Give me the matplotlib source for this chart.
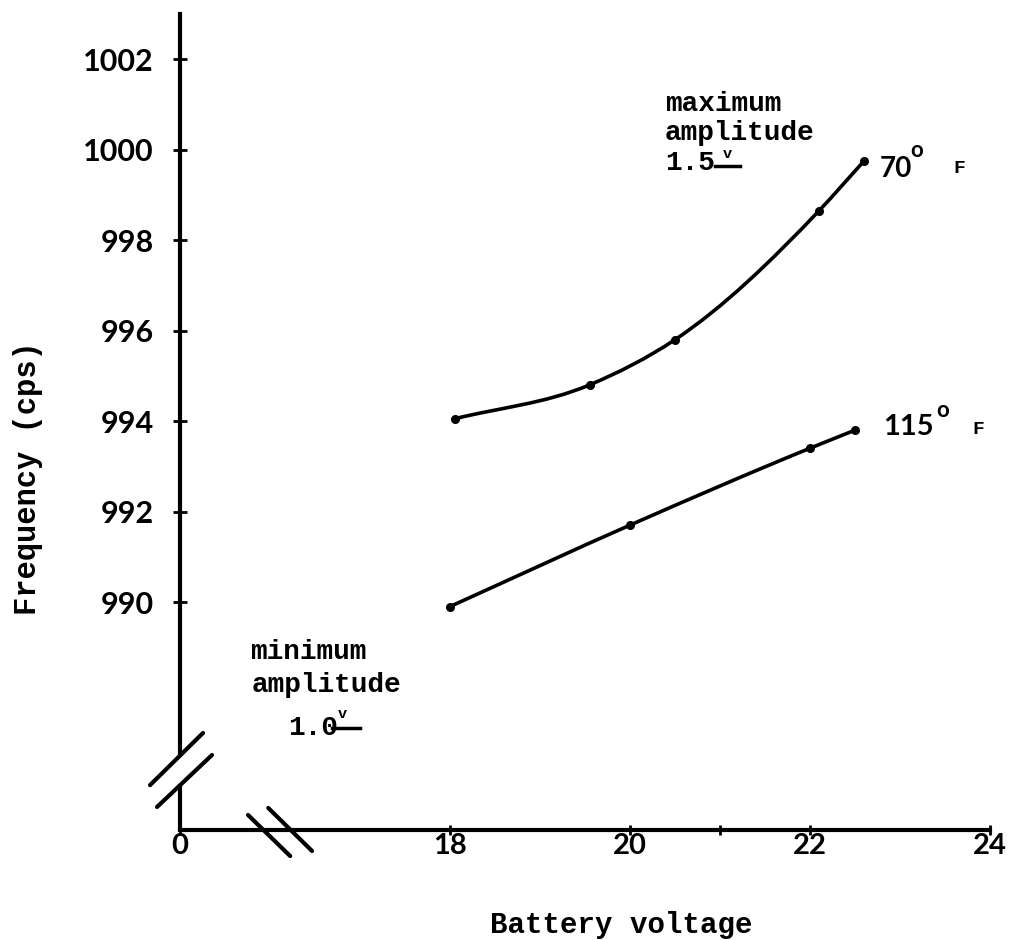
import matplotlib
matplotlib.use("Agg")
import numpy as np
import matplotlib.pyplot as plt
from matplotlib.lines import Line2D
from matplotlib.path import Path
from matplotlib.patches import PathPatch

# values: battery voltage (V) vs frequency (cps)
volts_70 = [18.05, 19.55, 20.5, 22.1, 22.6]
freq_70 = [994.05, 994.8, 995.8, 998.65, 999.75]
volts_115 = [18.0, 20.0, 22.0, 22.5]
freq_115 = [989.9, 991.7, 993.4, 993.8]

# x axis is broken: the origin "0" sits at 15 V on the drawn scale
x_ticks = [15, 18, 20, 21, 22, 24]
x_labels = ['0', '18', '20', '', '22', '24']
y_ticks = [990, 992, 994, 996, 998, 1000, 1002]
y_labels = ['990', '992', '994', '996', '998', '1000', '1002']

W, H = 1013, 940
TYPE = dict(family='Liberation Mono', weight='bold', color='black')
NUMS = dict(family='Lato', weight='bold', color='black')


def fx(px):
    return px / W


def fy(py):
    return 1 - py / H


def smooth_path(xs, ys):
    # hand-drawn look: bezier segments passing through every measured point
    x = np.asarray(xs, float)
    y = np.asarray(ys, float)
    h = np.diff(x)
    sec = np.diff(y) / h
    m = np.empty_like(y)
    m[0], m[-1] = sec[0], sec[-1]
    for i in range(1, len(x) - 1):
        m[i] = (sec[i] * h[i - 1] + sec[i - 1] * h[i]) / (h[i - 1] + h[i])
    verts = [(x[0], y[0])]
    codes = [Path.MOVETO]
    for i in range(len(x) - 1):
        verts += [(x[i] + h[i] / 3, y[i] + m[i] * h[i] / 3),
                  (x[i + 1] - h[i] / 3, y[i + 1] - m[i + 1] * h[i] / 3),
                  (x[i + 1], y[i + 1])]
        codes += [Path.CURVE4] * 3
    return Path(verts, codes)


fig = plt.figure(figsize=(W / 100, H / 100), dpi=100)
ax = fig.add_axes([fx(180), fy(830), 810 / W, 816 / H])
ax.set_xlim(15, 24)
ax.set_ylim(984.96, 1003.0)

for s in ['top', 'right']:
    ax.spines[s].set_visible(False)
for s in ['left', 'bottom']:
    ax.spines[s].set_linewidth(3)
# gap in the y axis for the break
ax.spines['left'].set_bounds(986.66, 1003.0)
ax.plot([0, 0], [0, 0.056], transform=ax.transAxes, color='black', lw=3,
        clip_on=False, solid_capstyle='butt')

ax.set_xticks(x_ticks)
ax.set_xticklabels(x_labels, fontsize=21, **NUMS)
ax.set_yticks(y_ticks)
ax.set_yticklabels(y_labels, fontsize=22, **NUMS)
ax.tick_params(axis='y', direction='inout', length=10, width=2, pad=14)
ax.tick_params(axis='x', direction='inout', length=7, width=2, pad=-1)

# break marks
brk = dict(transform=ax.transAxes, color='black', lw=3, clip_on=False,
           solid_capstyle='round')
ax.plot([-0.037, 0.0284], [0.055, 0.1189], **brk)
ax.plot([-0.0284, 0.0395], [0.0282, 0.0919], **brk)
ax.plot([0.084, 0.136], [0.0184, -0.0319], **brk)
ax.plot([0.109, 0.163], [0.0270, -0.0257], **brk)

# the two curves
for xs, ys in [(volts_70, freq_70), (volts_115, freq_115)]:
    ax.add_patch(PathPatch(smooth_path(xs, ys), fill=False, color='black',
                           lw=2.6, clip_on=False))
    ax.plot(xs, ys, ls='none', color='black', marker='o', ms=5.5, clip_on=False)

# curve labels
fig.text(fx(880), fy(177), '70', fontsize=20, va='baseline', **NUMS)
fig.text(fx(910), fy(157), 'o', fontsize=16, va='baseline', **NUMS)
fig.text(fx(953), fy(173), 'F', fontsize=14, va='baseline', **TYPE)
fig.text(fx(883), fy(435), '115', fontsize=21, va='baseline', **NUMS)
fig.text(fx(936), fy(417), 'o', fontsize=16, va='baseline', **NUMS)
fig.text(fx(972), fy(434), 'F', fontsize=14, va='baseline', **TYPE)

# amplitude notes
fig.text(fx(665), fy(104), 'maximum', fontsize=20, va='center', **TYPE)
fig.text(fx(665), fy(133), 'amplitude', fontsize=20, va='center', **TYPE)
fig.text(fx(665), fy(163), '1.5', fontsize=20, va='center', **TYPE)
fig.text(fx(727), fy(158), 'v', fontsize=11, ha='center', va='baseline', **TYPE)
fig.add_artist(Line2D([fx(715), fx(740)], [fy(166), fy(166)], color='black', lw=2.5))

fig.text(fx(250), fy(652), 'minimum', fontsize=20, va='center', **TYPE)
fig.text(fx(252), fy(685), 'amplitude', fontsize=20, va='center', **TYPE)
fig.text(fx(288), fy(728), '1.0', fontsize=20, va='center', **TYPE)
fig.text(fx(342), fy(718), 'v', fontsize=11, ha='center', va='baseline', **TYPE)
fig.add_artist(Line2D([fx(332), fx(360)], [fy(728), fy(728)], color='black', lw=2.5))

# axis titles
fig.text(fx(28), fy(478), 'Frequency (cps)', fontsize=22, rotation=90,
         ha='center', va='center', **TYPE)
fig.text(fx(621), fy(925), 'Battery voltage', fontsize=21,
         ha='center', va='center', **TYPE)

fig.savefig('out.png', dpi=100, facecolor='white')
